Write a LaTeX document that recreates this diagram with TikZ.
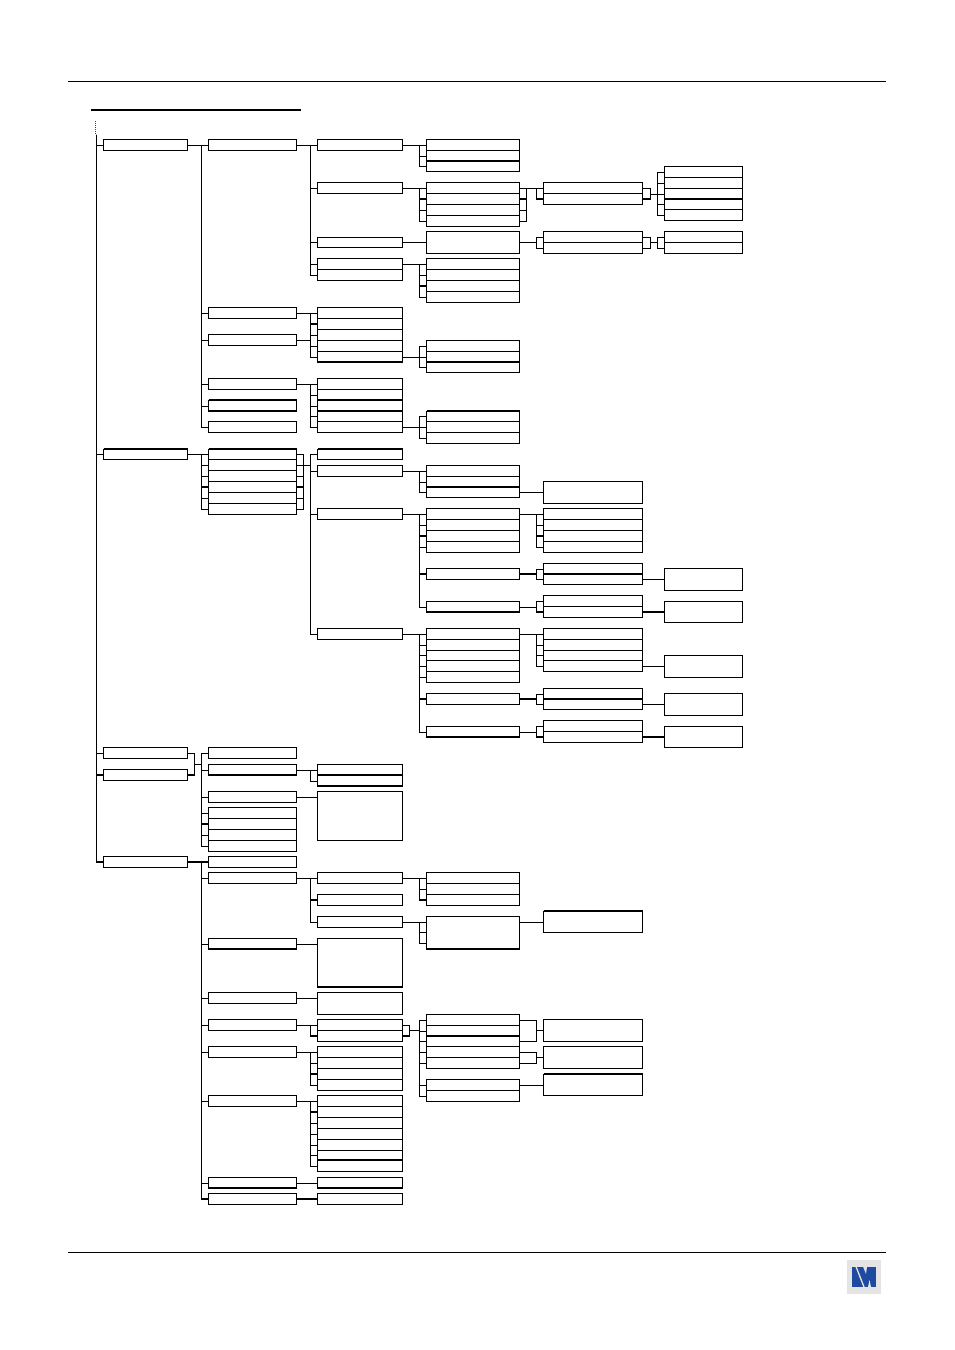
\documentclass[tikz,border=0pt]{standalone}
\usetikzlibrary{calc}
\tikzstyle{menubox}=[draw,rectangle,inner sep=0pt,outer sep=0pt,anchor=north west]
\tikzstyle{joint}=[rectangle,inner sep=0pt,outer sep=0pt,minimum size=0pt]
\tikzstyle{heavy}=[line width=2pt]
\tikzset{declare function={snap(\t)=ceil(\t-.01)-.5;}}
\definecolor{logoblue}{RGB}{30,75,160}
\definecolor{logogrey}{RGB}{228,228,228}

\begin{document}
\begin{tikzpicture}[x=1pt,y=-1pt,line width=1pt]
\useasboundingbox (0,0) rectangle (954,1350);

    \draw (68,81.5) -- (886,81.5);
    \draw (68,1252.5) -- (886,1252.5);
    \draw[heavy] (91,110) -- (301,110);

    \foreach \name/\top/\bottom in {a1/139.5/150.5, a2/449.5/459.5, a3/747.5/758.5, a4/769.5/780.5, a5/856.5/867.5}
        \node[menubox,minimum width=84pt,minimum height=\bottom pt-\top pt] (\name) at (103.5,\top) {};

    \foreach \name/\top/\bottom in {b1/139.5/150.5, b2/307.5/318.5, b3/334.5/345.5, b4/378.5/389.5, b5/400.5/411.5, b6/421.5/432.5,
            b7/449.5/459.5, b8/459.5/470.5, b9/470.5/481.5, b10/481.5/492.5, b11/492.5/503.5, b12/503.5/514.5,
            b13/747.5/758.5, b14/764.5/775.5, b15/791.5/802.5, b16/807.5/818.5, b17/818.5/829.5, b18/829.5/840.5, b19/840.5/851.5,
            b20/856.5/867.5, b21/872.5/883.5, b22/938.5/949.5, b23/992.5/1003.5, b24/1019.5/1030.5, b25/1046.5/1057.5,
            b26/1095.5/1106.5, b27/1177.5/1188.5, b28/1193.5/1204.5}
        \node[menubox,minimum width=88pt,minimum height=\bottom pt-\top pt] (\name) at (208.5,\top) {};

    \foreach \name/\top/\bottom in {c1/139.5/150.5, c2/182.5/193.5, c3/237.5/247.5, c4/258.5/269.5, c5/269.5/280.5,
            c6/307.5/318.5, c7/318.5/329.5, c8/329.5/340.5, c9/340.5/351.5, c10/351.5/362.5,
            c11/378.5/389.5, c12/389.5/400.5, c13/400.5/411.5, c14/411.5/421.5, c15/421.5/432.5,
            c16/449.5/459.5, c17/465.5/476.5, c18/508.5/519.5, c19/628.5/639.5,
            c20/764.5/775.5, c21/775.5/786.5, c22/791.5/840.5, c23/872.5/883.5, c24/894.5/905.5, c25/916.5/927.5,
            c26/938.5/987.5, c27/992.5/1014.5, c28/1019.5/1030.5, c29/1030.5/1041.5,
            c30/1046.5/1057.5, c31/1057.5/1068.5, c32/1068.5/1079.5, c33/1079.5/1090.5,
            c34/1095.5/1106.5, c35/1106.5/1117.5, c36/1117.5/1128.5, c37/1128.5/1139.5, c38/1139.5/1150.5, c39/1150.5/1160.5, c40/1160.5/1171.5,
            c41/1177.5/1188.5, c42/1193.5/1204.5}
        \node[menubox,minimum width=85pt,minimum height=\bottom pt-\top pt] (\name) at (317.5,\top) {};

    \foreach \name/\top/\bottom in {d1/139.5/150.5, d2/150.5/161.5, d3/161.5/171.5,
            d4/182.5/193.5, d5/193.5/204.5, d6/204.5/215.5, d7/215.5/226.5, d8/231.5/253.5,
            d9/258.5/269.5, d10/269.5/280.5, d11/280.5/291.5, d12/291.5/302.5,
            d13/340.5/351.5, d14/351.5/362.5, d15/362.5/372.5, d16/411.5/421.5, d17/421.5/432.5, d18/432.5/443.5,
            d19/465.5/476.5, d20/476.5/487.5, d21/487.5/497.5, d22/508.5/519.5, d23/519.5/530.5, d24/530.5/541.5, d25/541.5/552.5,
            d26/568.5/579.5, d27/601.5/612.5, d28/628.5/639.5, d29/639.5/650.5, d30/650.5/660.5, d31/660.5/671.5, d32/671.5/682.5,
            d33/693.5/704.5, d34/726.5/737.5, d35/872.5/883.5, d36/883.5/894.5, d37/894.5/905.5, d38/916.5/949.5,
            d39/1014.5/1025.5, d40/1025.5/1036.5, d41/1036.5/1046.5, d42/1046.5/1057.5, d43/1057.5/1068.5,
            d44/1079.5/1090.5, d45/1090.5/1101.5}
        \node[menubox,minimum width=93pt,minimum height=\bottom pt-\top pt] (\name) at (426.5,\top) {};

    \foreach \name/\top/\bottom in {e1/182.5/193.5, e2/193.5/204.5, e3/231.5/242.5, e4/242.5/253.5, e5/481.5/503.5,
            e6/508.5/519.5, e7/519.5/530.5, e8/530.5/541.5, e9/541.5/552.5, e10/563.5/574.5, e11/574.5/584.5, e12/595.5/606.5, e13/606.5/617.5,
            e14/628.5/639.5, e15/639.5/650.5, e16/650.5/660.5, e17/660.5/671.5, e18/688.5/699.5, e19/699.5/709.5, e20/720.5/731.5, e21/731.5/742.5,
            e22/911.5/932.5, e23/1019.5/1041.5, e24/1046.5/1068.5, e25/1074.5/1095.5}
        \node[menubox,minimum width=99pt,minimum height=\bottom pt-\top pt] (\name) at (543.5,\top) {};

    \foreach \name/\top/\bottom in {f1/166.5/177.5, f2/177.5/188.5, f3/188.5/199.5, f4/199.5/209.5, f5/209.5/220.5, f6/231.5/242.5, f7/242.5/253.5,
            f8/568.5/590.5, f9/601.5/622.5, f10/655.5/677.5, f11/693.5/715.5, f12/726.5/747.5}
        \node[menubox,minimum width=78pt,minimum height=\bottom pt-\top pt] (\name) at (664.5,\top) {};

    % vertical bars and the points where rows join up
    \foreach \name/\xpos in {sa/96.5, sb/201.5, sc/310.5, sd/419.5, se/536.5, sf/657.5}
        \coordinate (\name) at (\xpos,0);
    \foreach \pos/\name in {{(96.5,134.5)/top}, {(95.7,121)/dots}, {(303.5,465.5)/j1}, {(526.5,188.5)/j2}, {(650.5,194.5)/j3}, {(650.5,242.5)/j4},
            {(194.5,764.5)/j5}, {(409.5,1030.5)/j6}, {(536.5,1030.5)/j7}, {(536.5,1057.5)/j8},
            {(426.5,922.5)/k1}, {(426.5,932.5)/k2}, {(426.5,943.5)/k3}}
        \node[joint] (\name) at \pos {};

    \draw[line width=1.5pt,black!75,dash pattern=on 1pt off 1pt] (dots) -- (dots |- top);

    \foreach \source/\spine/\dest in {top/sa/a1, top/sa/a2, top/sa/a3, top/sa/a4, top/sa/a5,
            a1/sb/b1, a1/sb/b2, a1/sb/b3, a1/sb/b4, a1/sb/b5, a1/sb/b6,
            a2/sb/b7, a2/sb/b8, a2/sb/b9, a2/sb/b10, a2/sb/b11, a2/sb/b12,
            a3/j5/j5, a4/j5/j5, j5/sb/b13, j5/sb/b14, j5/sb/b15, j5/sb/b16, j5/sb/b17, j5/sb/b18, j5/sb/b19,
            a5/sb/b20, a5/sb/b21, a5/sb/b22, a5/sb/b23, a5/sb/b24, a5/sb/b25, a5/sb/b26, a5/sb/b27, a5/sb/b28,
            b1/sc/c1, b1/sc/c2, b1/sc/c3, b1/sc/c4, b1/sc/c5,
            b3/sc/c6, b2/sc/c6, b2/sc/c7, b2/sc/c8, b2/sc/c9, b2/sc/c10,
            b4/sc/c11, b4/sc/c12, b4/sc/c13, b4/sc/c14, b4/sc/c15,
            b7/j1/j1, b8/j1/j1, b9/j1/j1, b10/j1/j1, b11/j1/j1, b12/j1/j1,
            j1/sc/c16, j1/sc/c17, j1/sc/c18, j1/sc/c19,
            b14/sc/c20, b14/sc/c21, b21/sc/c23, b21/sc/c24, b21/sc/c25, b24/sc/c28, b24/sc/c29,
            b25/sc/c30, b25/sc/c31, b25/sc/c32, b25/sc/c33,
            b26/sc/c34, b26/sc/c35, b26/sc/c36, b26/sc/c37, b26/sc/c38, b26/sc/c39, b26/sc/c40,
            c1/sd/d1, c1/sd/d2, c1/sd/d3, c2/sd/d4, c2/sd/d5, c2/sd/d6, c2/sd/d7,
            c4/sd/d9, c4/sd/d10, c4/sd/d11, c4/sd/d12, c10/sd/d13, c10/sd/d14, c10/sd/d15,
            c15/sd/d16, c15/sd/d17, c15/sd/d18, c17/sd/d19, c17/sd/d20, c17/sd/d21,
            c18/sd/d22, c18/sd/d23, c18/sd/d24, c18/sd/d25, c18/sd/d26, c18/sd/d27,
            c19/sd/d28, c19/sd/d29, c19/sd/d30, c19/sd/d31, c19/sd/d32, c19/sd/d33, c19/sd/d34,
            c23/sd/d35, c23/sd/d36, c23/sd/d37, c25/sd/k1, c25/sd/k2, c25/sd/k3,
            c28/j6/j6, c29/j6/j6, j6/sd/d39, j6/sd/d40, j6/sd/d41, j6/sd/d42, j6/sd/d43, j6/sd/d44, j6/sd/d45,
            d4/j2/j2, d5/j2/j2, d6/j2/j2, d7/j2/j2, j2/se/e1, j2/se/e2, d8/se/e3, d8/se/e4,
            d22/se/e6, d22/se/e7, d22/se/e8, d22/se/e9, d26/se/e10, d26/se/e11, d27/se/e12, d27/se/e13,
            d28/se/e14, d28/se/e15, d28/se/e16, d28/se/e17, d33/se/e18, d33/se/e19, d34/se/e20, d34/se/e21,
            d39/j7/j7, d41/j7/j7, j7/j7/e23, d42/j8/j8, d43/j8/j8, j8/j8/e24,
            e1/j3/j3, e2/j3/j3, j3/sf/f1, j3/sf/f2, j3/sf/f3, j3/sf/f4, j3/sf/f5,
            e3/j4/j4, e4/j4/j4, j4/sf/f6, j4/sf/f7}
        \draw let \p1=(\source.east), \p2=(\spine), \p3=(\dest.west) in
            (\x1,{snap(\y1)*1pt}) -- (\x2,{snap(\y1)*1pt}) -- (\x2,{snap(\y3)*1pt}) -- (\x3,{snap(\y3)*1pt});

    % straight across, at the height of the smaller box
    \foreach \source/\dest in {b15/c22, b22/c26, b23/c27, b27/c41, b28/c42, c3/d8, d21/e5, d44/e25,
            e11/f8, e13/f9, e17/f10, e19/f11, e21/f12}
        \draw let \p1=(\source.east), \p3=(\dest.west) in (\x1,{snap(\y1)*1pt}) -- (\x3,{snap(\y1)*1pt});
    \draw let \p1=(d38.east), \p3=(e22.west) in (\x1,{snap(\y3)*1pt}) -- (\x3,{snap(\y3)*1pt});

    % the heavier lines
    \foreach \name/\side in {d2/south, f3/south, c10/south, c12/south, c13/south, b5/north, b5/south, d14/south, d16/north,
            a2/north, b7/north, c16/north, d20/south, e10/south, d27/south, e18/south, d34/south,
            b14/south, c20/south, c21/south, b22/south, d38/south, e22/north, c26/south,
            d40/south, c39/south, b27/south, c41/south, e25/north}
        \draw[heavy] ([yshift=.5pt]\name.\side\space west) -- ([yshift=.5pt]\name.\side\space east);
    \foreach \spine/\dest in {sd/d5, se/e2, sd/d11, sc/c7, sb/b10, sd/d24, se/e8, sd/d26, se/e13, sd/d33, se/e21,
            sa/a4, sb/b17, sa/a5, sb/b20, sd/d37, sc/c24, sc/c29, sc/c32, sc/c35, sb/b28}
        \draw[heavy] (\spine |- \dest.west) -- (\dest.west);
    \foreach \source/\spine in {d5/j2, e2/j3, b10/j1, d26/se, d33/se, e13/f9.west, e21/f12.west, a4/j5, a5/sb, c29/j6, b28/c42.west}
        \draw[heavy] (\source.east) -- (\source.east -| \spine);

    % logo
    \fill[logogrey] (847,1260) rectangle (881,1294);
    \fill[logoblue] (852,1266.5) rectangle (875.5,1287);
    \draw[logogrey,line width=1.3pt] (856,1266.5) -- (864,1287);
    \fill[logogrey] (863,1266.5) -- (867,1266.5) -- (866,1274) -- cycle;
    \fill[logogrey] (868,1287) -- (871,1287) -- (869.5,1280) -- cycle;

\end{tikzpicture}
\end{document}
